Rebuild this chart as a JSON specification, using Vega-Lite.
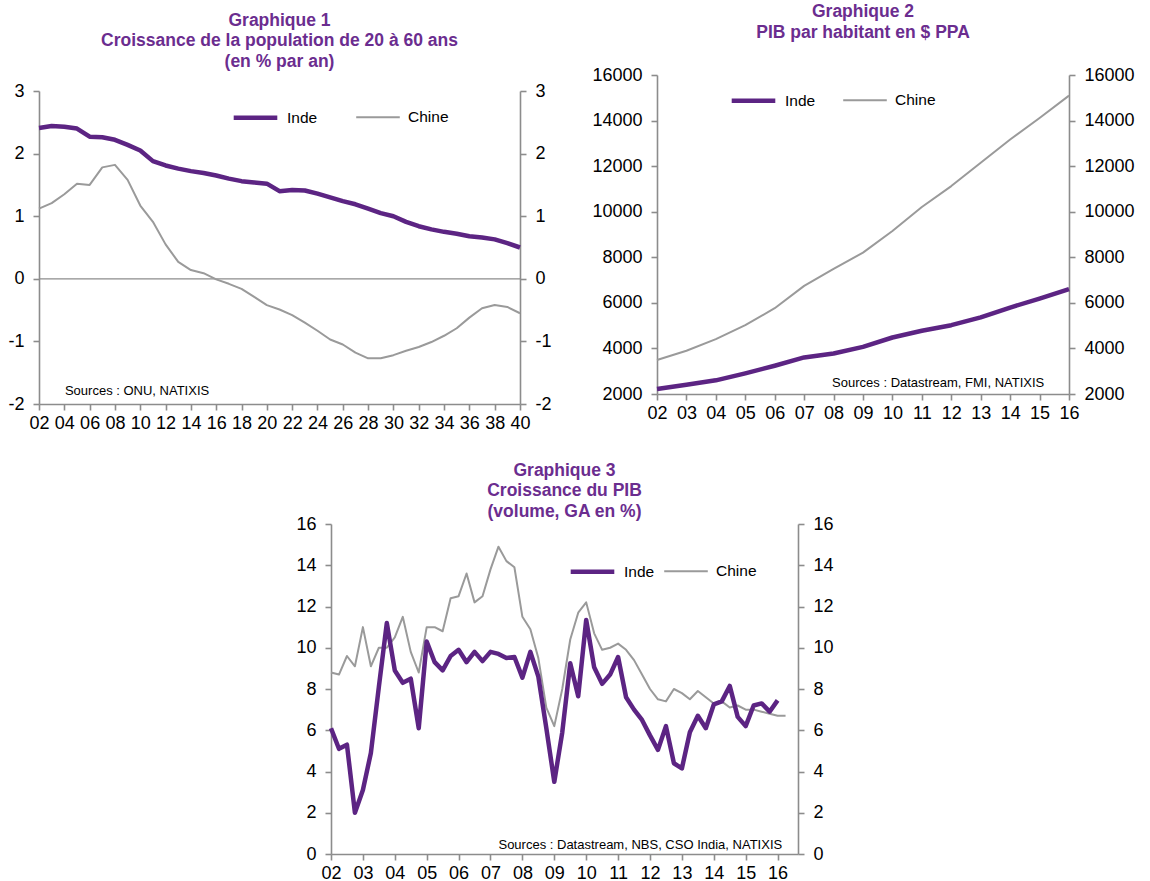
{
  "$schema": "https://vega.github.io/schema/vega-lite/v6.json",
  "padding": {"left": 7, "top": 3, "right": 5, "bottom": 0},
  "config": {
    "font": "Liberation Sans",
    "view": {"stroke": null},
    "axis": {"grid": false, "domainColor": "#8c8c8c", "domainWidth": 1.6, "tickColor": "#8c8c8c", "tickWidth": 1.6, "tickSize": 6, "labelFont": "Liberation Sans", "labelFontSize": 18, "labelColor": "#000000", "labelFlush": false, "labelOverlap": false, "labelBound": false},
    "axisX": {"labelPadding": 4},
    "axisY": {"labelPadding": 9},
    "title": {"font": "Liberation Sans", "fontSize": 17.5, "fontWeight": "bold", "color": "#6b2d8f", "lineHeight": 20.5, "anchor": "middle", "frame": "group"},
    "legend": {"symbolType": "stroke", "symbolSize": 1900, "labelFont": "Liberation Sans", "labelFontSize": 15.5, "labelColor": "#000000", "labelOffset": 7, "padding": 0, "rowPadding": 0}
  },
  "datasets": {
    "g1": [
      {"t":2002,"s":"Inde","v":2.41},{"t":2003,"s":"Inde","v":2.44},{"t":2004,"s":"Inde","v":2.43},{"t":2005,"s":"Inde","v":2.40},{"t":2006,"s":"Inde","v":2.27},{"t":2007,"s":"Inde","v":2.26},{"t":2008,"s":"Inde","v":2.22},{"t":2009,"s":"Inde","v":2.14},{"t":2010,"s":"Inde","v":2.05},{"t":2011,"s":"Inde","v":1.88},{"t":2012,"s":"Inde","v":1.81},{"t":2013,"s":"Inde","v":1.76},{"t":2014,"s":"Inde","v":1.72},{"t":2015,"s":"Inde","v":1.69},{"t":2016,"s":"Inde","v":1.65},{"t":2017,"s":"Inde","v":1.60},{"t":2018,"s":"Inde","v":1.56},{"t":2019,"s":"Inde","v":1.54},{"t":2020,"s":"Inde","v":1.52},{"t":2021,"s":"Inde","v":1.40},{"t":2022,"s":"Inde","v":1.42},{"t":2023,"s":"Inde","v":1.41},{"t":2024,"s":"Inde","v":1.36},{"t":2025,"s":"Inde","v":1.30},{"t":2026,"s":"Inde","v":1.24},{"t":2027,"s":"Inde","v":1.19},{"t":2028,"s":"Inde","v":1.12},{"t":2029,"s":"Inde","v":1.05},{"t":2030,"s":"Inde","v":1.00},{"t":2031,"s":"Inde","v":0.91},{"t":2032,"s":"Inde","v":0.84},{"t":2033,"s":"Inde","v":0.79},{"t":2034,"s":"Inde","v":0.75},{"t":2035,"s":"Inde","v":0.72},{"t":2036,"s":"Inde","v":0.68},{"t":2037,"s":"Inde","v":0.66},{"t":2038,"s":"Inde","v":0.63},{"t":2039,"s":"Inde","v":0.57},{"t":2040,"s":"Inde","v":0.50},
      {"t":2002,"s":"Chine","v":1.12},{"t":2003,"s":"Chine","v":1.21},{"t":2004,"s":"Chine","v":1.35},{"t":2005,"s":"Chine","v":1.52},{"t":2006,"s":"Chine","v":1.50},{"t":2007,"s":"Chine","v":1.78},{"t":2008,"s":"Chine","v":1.82},{"t":2009,"s":"Chine","v":1.58},{"t":2010,"s":"Chine","v":1.17},{"t":2011,"s":"Chine","v":0.91},{"t":2012,"s":"Chine","v":0.55},{"t":2013,"s":"Chine","v":0.27},{"t":2014,"s":"Chine","v":0.14},{"t":2015,"s":"Chine","v":0.09},{"t":2016,"s":"Chine","v":-0.01},{"t":2017,"s":"Chine","v":-0.08},{"t":2018,"s":"Chine","v":-0.16},{"t":2019,"s":"Chine","v":-0.29},{"t":2020,"s":"Chine","v":-0.42},{"t":2021,"s":"Chine","v":-0.49},{"t":2022,"s":"Chine","v":-0.58},{"t":2023,"s":"Chine","v":-0.70},{"t":2024,"s":"Chine","v":-0.83},{"t":2025,"s":"Chine","v":-0.97},{"t":2026,"s":"Chine","v":-1.05},{"t":2027,"s":"Chine","v":-1.18},{"t":2028,"s":"Chine","v":-1.27},{"t":2029,"s":"Chine","v":-1.27},{"t":2030,"s":"Chine","v":-1.22},{"t":2031,"s":"Chine","v":-1.15},{"t":2032,"s":"Chine","v":-1.09},{"t":2033,"s":"Chine","v":-1.01},{"t":2034,"s":"Chine","v":-0.91},{"t":2035,"s":"Chine","v":-0.79},{"t":2036,"s":"Chine","v":-0.62},{"t":2037,"s":"Chine","v":-0.47},{"t":2038,"s":"Chine","v":-0.42},{"t":2039,"s":"Chine","v":-0.45},{"t":2040,"s":"Chine","v":-0.55}
    ],
    "g2": [
      {"t":2002,"s":"Inde","v":2220},{"t":2003,"s":"Inde","v":2410},{"t":2004,"s":"Inde","v":2600},{"t":2005,"s":"Inde","v":2905},{"t":2006,"s":"Inde","v":3240},{"t":2007,"s":"Inde","v":3605},{"t":2008,"s":"Inde","v":3780},{"t":2009,"s":"Inde","v":4070},{"t":2010,"s":"Inde","v":4480},{"t":2011,"s":"Inde","v":4775},{"t":2012,"s":"Inde","v":5020},{"t":2013,"s":"Inde","v":5360},{"t":2014,"s":"Inde","v":5795},{"t":2015,"s":"Inde","v":6190},{"t":2016,"s":"Inde","v":6600},
      {"t":2002,"s":"Chine","v":3490},{"t":2003,"s":"Chine","v":3900},{"t":2004,"s":"Chine","v":4410},{"t":2005,"s":"Chine","v":5020},{"t":2006,"s":"Chine","v":5765},{"t":2007,"s":"Chine","v":6745},{"t":2008,"s":"Chine","v":7490},{"t":2009,"s":"Chine","v":8205},{"t":2010,"s":"Chine","v":9155},{"t":2011,"s":"Chine","v":10205},{"t":2012,"s":"Chine","v":11125},{"t":2013,"s":"Chine","v":12145},{"t":2014,"s":"Chine","v":13170},{"t":2015,"s":"Chine","v":14115},{"t":2016,"s":"Chine","v":15095}
    ],
    "g3": [
      {"t":2002,"s":"Inde","v":6.1},{"t":2002.25,"s":"Inde","v":5.1},{"t":2002.5,"s":"Inde","v":5.3},{"t":2002.75,"s":"Inde","v":2.0},
      {"t":2003,"s":"Inde","v":3.1},{"t":2003.25,"s":"Inde","v":4.9},{"t":2003.5,"s":"Inde","v":8.1},{"t":2003.75,"s":"Inde","v":11.2},
      {"t":2004,"s":"Inde","v":8.9},{"t":2004.25,"s":"Inde","v":8.3},{"t":2004.5,"s":"Inde","v":8.5},{"t":2004.75,"s":"Inde","v":6.1},
      {"t":2005,"s":"Inde","v":10.3},{"t":2005.25,"s":"Inde","v":9.3},{"t":2005.5,"s":"Inde","v":8.9},{"t":2005.75,"s":"Inde","v":9.6},
      {"t":2006,"s":"Inde","v":9.9},{"t":2006.25,"s":"Inde","v":9.3},{"t":2006.5,"s":"Inde","v":9.8},{"t":2006.75,"s":"Inde","v":9.35},
      {"t":2007,"s":"Inde","v":9.8},{"t":2007.25,"s":"Inde","v":9.7},{"t":2007.5,"s":"Inde","v":9.5},{"t":2007.75,"s":"Inde","v":9.55},
      {"t":2008,"s":"Inde","v":8.55},{"t":2008.25,"s":"Inde","v":9.8},{"t":2008.5,"s":"Inde","v":8.6},{"t":2008.75,"s":"Inde","v":6.1},
      {"t":2009,"s":"Inde","v":3.5},{"t":2009.25,"s":"Inde","v":5.9},{"t":2009.5,"s":"Inde","v":9.25},{"t":2009.75,"s":"Inde","v":7.65},
      {"t":2010,"s":"Inde","v":11.35},{"t":2010.25,"s":"Inde","v":9.05},{"t":2010.5,"s":"Inde","v":8.25},{"t":2010.75,"s":"Inde","v":8.7},
      {"t":2011,"s":"Inde","v":9.55},{"t":2011.25,"s":"Inde","v":7.6},{"t":2011.5,"s":"Inde","v":7.0},{"t":2011.75,"s":"Inde","v":6.5},
      {"t":2012,"s":"Inde","v":5.75},{"t":2012.25,"s":"Inde","v":5.05},{"t":2012.5,"s":"Inde","v":6.2},{"t":2012.75,"s":"Inde","v":4.4},
      {"t":2013,"s":"Inde","v":4.15},{"t":2013.25,"s":"Inde","v":5.9},{"t":2013.5,"s":"Inde","v":6.7},{"t":2013.75,"s":"Inde","v":6.1},
      {"t":2014,"s":"Inde","v":7.25},{"t":2014.25,"s":"Inde","v":7.4},{"t":2014.5,"s":"Inde","v":8.15},{"t":2014.75,"s":"Inde","v":6.65},
      {"t":2015,"s":"Inde","v":6.2},{"t":2015.25,"s":"Inde","v":7.2},{"t":2015.5,"s":"Inde","v":7.3},{"t":2015.75,"s":"Inde","v":6.9},
      {"t":2016,"s":"Inde","v":7.45},
      {"t":2002,"s":"Chine","v":8.8},{"t":2002.25,"s":"Chine","v":8.7},{"t":2002.5,"s":"Chine","v":9.6},{"t":2002.75,"s":"Chine","v":9.1},
      {"t":2003,"s":"Chine","v":11.0},{"t":2003.25,"s":"Chine","v":9.1},{"t":2003.5,"s":"Chine","v":10.0},{"t":2003.75,"s":"Chine","v":10.0},
      {"t":2004,"s":"Chine","v":10.5},{"t":2004.25,"s":"Chine","v":11.5},{"t":2004.5,"s":"Chine","v":9.8},{"t":2004.75,"s":"Chine","v":8.8},
      {"t":2005,"s":"Chine","v":11.0},{"t":2005.25,"s":"Chine","v":11.0},{"t":2005.5,"s":"Chine","v":10.8},{"t":2005.75,"s":"Chine","v":12.4},
      {"t":2006,"s":"Chine","v":12.5},{"t":2006.25,"s":"Chine","v":13.6},{"t":2006.5,"s":"Chine","v":12.2},{"t":2006.75,"s":"Chine","v":12.5},
      {"t":2007,"s":"Chine","v":13.8},{"t":2007.25,"s":"Chine","v":14.9},{"t":2007.5,"s":"Chine","v":14.2},{"t":2007.75,"s":"Chine","v":13.9},
      {"t":2008,"s":"Chine","v":11.5},{"t":2008.25,"s":"Chine","v":10.9},{"t":2008.5,"s":"Chine","v":9.5},{"t":2008.75,"s":"Chine","v":7.1},
      {"t":2009,"s":"Chine","v":6.2},{"t":2009.25,"s":"Chine","v":8.0},{"t":2009.5,"s":"Chine","v":10.4},{"t":2009.75,"s":"Chine","v":11.7},
      {"t":2010,"s":"Chine","v":12.2},{"t":2010.25,"s":"Chine","v":10.7},{"t":2010.5,"s":"Chine","v":9.9},{"t":2010.75,"s":"Chine","v":10.0},
      {"t":2011,"s":"Chine","v":10.2},{"t":2011.25,"s":"Chine","v":9.9},{"t":2011.5,"s":"Chine","v":9.4},{"t":2011.75,"s":"Chine","v":8.7},
      {"t":2012,"s":"Chine","v":8.0},{"t":2012.25,"s":"Chine","v":7.5},{"t":2012.5,"s":"Chine","v":7.4},{"t":2012.75,"s":"Chine","v":8.0},
      {"t":2013,"s":"Chine","v":7.8},{"t":2013.25,"s":"Chine","v":7.5},{"t":2013.5,"s":"Chine","v":7.9},{"t":2013.75,"s":"Chine","v":7.6},
      {"t":2014,"s":"Chine","v":7.3},{"t":2014.25,"s":"Chine","v":7.4},{"t":2014.5,"s":"Chine","v":7.1},{"t":2014.75,"s":"Chine","v":7.2},
      {"t":2015,"s":"Chine","v":7.0},{"t":2015.25,"s":"Chine","v":7.0},{"t":2015.5,"s":"Chine","v":6.9},{"t":2015.75,"s":"Chine","v":6.8},
      {"t":2016,"s":"Chine","v":6.7},{"t":2016.25,"s":"Chine","v":6.7}
    ]
  },
  "resolve": {"scale": {"color": "independent", "strokeWidth": "independent"}},
  "spacing": 29,
  "vconcat": [
    {
      "spacing": 39,
      "resolve": {"scale": {"color": "independent", "strokeWidth": "independent"}},
      "hconcat": [
        {
          "width": 481, "height": 329,
          "title": {"text": ["Graphique 1", "Croissance de la population de 20 à 60 ans", "(en % par an)"], "offset": 5},
          "resolve": {"scale": {"y": "independent"}},
          "layer": [
            {
              "data": {"values": [{}]},
              "mark": {"type": "rule", "color": "#8c8c8c", "strokeWidth": 1.2},
              "encoding": {"y": {"datum": 0, "type": "quantitative", "scale": {"domain": [-2, 3], "nice": false, "range": [329, 16]}, "axis": null}}
            },
            {
              "data": {"name": "g1"},
              "transform": [{"filter": "datum.s === 'Chine'"}],
              "mark": {"type": "line", "strokeJoin": "round"},
              "encoding": {
                "x": {"field": "t", "type": "quantitative", "scale": {"domain": [2002, 2040], "nice": false, "zero": false}, "axis": {"title": null, "labelOverlap": false, "values": [2002,2004,2006,2008,2010,2012,2014,2016,2018,2020,2022,2024,2026,2028,2030,2032,2034,2036,2038,2040], "format": "d", "labelExpr": "substring(datum.label, 2)"}},
                "y": {"field": "v", "type": "quantitative", "scale": {"domain": [-2, 3], "nice": false, "zero": false, "range": [329, 16]}, "axis": {"title": null, "labelOverlap": false, "orient": "right", "values": [-2,-1,0,1,2,3], "labelExpr": "toString(datum.value)"}},
                "color": {"field": "s", "type": "nominal", "scale": {"domain": ["Inde", "Chine"], "range": ["#5c2483", "#9a9a9a"]}, "legend": {"title": null, "orient": "none", "direction": "horizontal", "legendX": 192, "legendY": 18, "columnPadding": 34}},
                "strokeWidth": {"field": "s", "type": "nominal", "scale": {"domain": ["Inde", "Chine"], "range": [4.5, 2]}, "legend": {"title": null, "orient": "none", "direction": "horizontal", "legendX": 192, "legendY": 18, "columnPadding": 34}}
              }
            },
            {
              "data": {"name": "g1"},
              "transform": [{"filter": "datum.s === 'Inde'"}],
              "mark": {"type": "line", "strokeJoin": "round"},
              "encoding": {
                "x": {"field": "t", "type": "quantitative", "scale": {"domain": [2002, 2040], "nice": false, "zero": false}, "axis": {"title": null, "labelOverlap": false, "values": [2002,2004,2006,2008,2010,2012,2014,2016,2018,2020,2022,2024,2026,2028,2030,2032,2034,2036,2038,2040], "format": "d", "labelExpr": "substring(datum.label, 2)"}},
                "y": {"field": "v", "type": "quantitative", "scale": {"domain": [-2, 3], "nice": false, "zero": false, "range": [329, 16]}, "axis": {"title": null, "labelOverlap": false, "orient": "left", "values": [-2,-1,0,1,2,3], "labelExpr": "toString(datum.value)"}},
                "color": {"field": "s", "type": "nominal", "scale": {"domain": ["Inde", "Chine"], "range": ["#5c2483", "#9a9a9a"]}, "legend": {"title": null, "orient": "none", "direction": "horizontal", "legendX": 192, "legendY": 18, "columnPadding": 34}},
                "strokeWidth": {"field": "s", "type": "nominal", "scale": {"domain": ["Inde", "Chine"], "range": [4.5, 2]}, "legend": {"title": null, "orient": "none", "direction": "horizontal", "legendX": 192, "legendY": 18, "columnPadding": 34}}
              }
            },
            {
              "data": {"values": [{}]},
              "mark": {"type": "text", "text": "Sources : ONU, NATIXIS", "align": "left", "baseline": "middle", "fontSize": 13, "color": "#000000"},
              "encoding": {
                "x": {"datum": 2004.05, "type": "quantitative", "axis": {"title": null, "labelOverlap": false, "values": [2002,2004,2006,2008,2010,2012,2014,2016,2018,2020,2022,2024,2026,2028,2030,2032,2034,2036,2038,2040], "format": "d", "labelExpr": "substring(datum.label, 2)"}},
                "y": {"datum": -1.8, "type": "quantitative", "scale": {"domain": [-2, 3], "nice": false, "range": [329, 16]}, "axis": null}
              }
            }
          ]
        },
        {
          "width": 412, "height": 319,
          "title": {"text": ["Graphique 2", "PIB par habitant en $ PPA"], "offset": 25},
          "resolve": {"scale": {"y": "independent"}},
          "layer": [
            {
              "data": {"name": "g2"},
              "transform": [{"filter": "datum.s === 'Chine'"}],
              "mark": {"type": "line", "strokeJoin": "round"},
              "encoding": {
                "x": {"field": "t", "type": "quantitative", "scale": {"domain": [2002, 2016], "nice": false, "zero": false}, "axis": {"title": null, "labelOverlap": false, "values": [2002,2003,2004,2005,2006,2007,2008,2009,2010,2011,2012,2013,2014,2015,2016], "format": "d", "labelExpr": "substring(datum.label, 2)"}},
                "y": {"field": "v", "type": "quantitative", "scale": {"domain": [2000, 16000], "nice": false, "zero": false}, "axis": {"title": null, "labelOverlap": false, "orient": "right", "values": [2000,4000,6000,8000,10000,12000,14000,16000], "format": "d"}},
                "color": {"field": "s", "type": "nominal", "scale": {"domain": ["Inde", "Chine"], "range": ["#5c2483", "#9a9a9a"]}, "legend": {"title": null, "orient": "none", "direction": "horizontal", "legendX": 72, "legendY": 1, "columnPadding": 23}},
                "strokeWidth": {"field": "s", "type": "nominal", "scale": {"domain": ["Inde", "Chine"], "range": [4.5, 2]}, "legend": {"title": null, "orient": "none", "direction": "horizontal", "legendX": 72, "legendY": 1, "columnPadding": 23}}
              }
            },
            {
              "data": {"name": "g2"},
              "transform": [{"filter": "datum.s === 'Inde'"}],
              "mark": {"type": "line", "strokeJoin": "round"},
              "encoding": {
                "x": {"field": "t", "type": "quantitative", "scale": {"domain": [2002, 2016], "nice": false, "zero": false}, "axis": {"title": null, "labelOverlap": false, "values": [2002,2003,2004,2005,2006,2007,2008,2009,2010,2011,2012,2013,2014,2015,2016], "format": "d", "labelExpr": "substring(datum.label, 2)"}},
                "y": {"field": "v", "type": "quantitative", "scale": {"domain": [2000, 16000], "nice": false, "zero": false}, "axis": {"title": null, "labelOverlap": false, "orient": "left", "values": [2000,4000,6000,8000,10000,12000,14000,16000], "format": "d"}},
                "color": {"field": "s", "type": "nominal", "scale": {"domain": ["Inde", "Chine"], "range": ["#5c2483", "#9a9a9a"]}, "legend": {"title": null, "orient": "none", "direction": "horizontal", "legendX": 72, "legendY": 1, "columnPadding": 23}},
                "strokeWidth": {"field": "s", "type": "nominal", "scale": {"domain": ["Inde", "Chine"], "range": [4.5, 2]}, "legend": {"title": null, "orient": "none", "direction": "horizontal", "legendX": 72, "legendY": 1, "columnPadding": 23}}
              }
            },
            {
              "data": {"values": [{}]},
              "mark": {"type": "text", "text": "Sources : Datastream, FMI, NATIXIS", "align": "left", "baseline": "middle", "fontSize": 13, "color": "#000000"},
              "encoding": {
                "x": {"datum": 2007.95, "type": "quantitative", "axis": {"title": null, "labelOverlap": false, "values": [2002,2003,2004,2005,2006,2007,2008,2009,2010,2011,2012,2013,2014,2015,2016], "format": "d", "labelExpr": "substring(datum.label, 2)"}},
                "y": {"datum": 2483, "type": "quantitative", "scale": {"domain": [2000, 16000], "nice": false}, "axis": null}
              }
            }
          ]
        }
      ]
    },
    {
      "width": 759, "height": 330,
      "title": {"text": ["Graphique 3", "Croissance du PIB", "(volume, GA en %)"], "offset": -5, "dx": 146},
      "resolve": {"scale": {"y": "independent"}},
      "layer": [
        {
          "data": {"name": "g3"},
          "transform": [{"filter": "datum.s === 'Chine'"}],
          "mark": {"type": "line", "strokeJoin": "round"},
          "encoding": {
            "x": {"field": "t", "type": "quantitative", "scale": {"domain": [2002, 2016.64], "nice": false, "zero": false, "range": [292, 759]}, "axis": {"title": null, "labelOverlap": false, "values": [2002,2003,2004,2005,2006,2007,2008,2009,2010,2011,2012,2013,2014,2015,2016], "format": "d", "labelExpr": "substring(datum.label, 2)"}},
            "y": {"field": "v", "type": "quantitative", "scale": {"domain": [0, 16], "nice": false}, "axis": {"title": null, "labelOverlap": false, "orient": "right", "values": [0,2,4,6,8,10,12,14,16]}},
            "color": {"field": "s", "type": "nominal", "scale": {"domain": ["Inde", "Chine"], "range": ["#5c2483", "#9a9a9a"]}, "legend": {"title": null, "orient": "none", "direction": "horizontal", "legendX": 529, "legendY": 23, "columnPadding": 5}},
            "strokeWidth": {"field": "s", "type": "nominal", "scale": {"domain": ["Inde", "Chine"], "range": [4.5, 2]}, "legend": {"title": null, "orient": "none", "direction": "horizontal", "legendX": 529, "legendY": 23, "columnPadding": 5}}
          }
        },
        {
          "data": {"name": "g3"},
          "transform": [{"filter": "datum.s === 'Inde'"}],
          "mark": {"type": "line", "strokeJoin": "round"},
          "encoding": {
            "x": {"field": "t", "type": "quantitative", "scale": {"domain": [2002, 2016.64], "nice": false, "zero": false, "range": [292, 759]}, "axis": {"title": null, "labelOverlap": false, "values": [2002,2003,2004,2005,2006,2007,2008,2009,2010,2011,2012,2013,2014,2015,2016], "format": "d", "labelExpr": "substring(datum.label, 2)"}},
            "y": {"field": "v", "type": "quantitative", "scale": {"domain": [0, 16], "nice": false}, "axis": {"title": null, "labelOverlap": false, "orient": "left", "offset": -292, "values": [0,2,4,6,8,10,12,14,16]}},
            "color": {"field": "s", "type": "nominal", "scale": {"domain": ["Inde", "Chine"], "range": ["#5c2483", "#9a9a9a"]}, "legend": {"title": null, "orient": "none", "direction": "horizontal", "legendX": 529, "legendY": 23, "columnPadding": 5}},
            "strokeWidth": {"field": "s", "type": "nominal", "scale": {"domain": ["Inde", "Chine"], "range": [4.5, 2]}, "legend": {"title": null, "orient": "none", "direction": "horizontal", "legendX": 529, "legendY": 23, "columnPadding": 5}}
          }
        },
        {
          "data": {"values": [{}]},
          "mark": {"type": "text", "text": "Sources : Datastream, NBS, CSO India, NATIXIS", "align": "left", "baseline": "middle", "fontSize": 13, "color": "#000000"},
          "encoding": {
            "x": {"datum": 2007.25, "type": "quantitative", "scale": {"domain": [2002, 2016.64], "nice": false, "zero": false, "range": [292, 759]}, "axis": {"title": null, "labelOverlap": false, "values": [2002,2003,2004,2005,2006,2007,2008,2009,2010,2011,2012,2013,2014,2015,2016], "format": "d", "labelExpr": "substring(datum.label, 2)"}},
            "y": {"datum": 0.44, "type": "quantitative", "scale": {"domain": [0, 16], "nice": false}, "axis": null}
          }
        }
      ]
    }
  ]
}
